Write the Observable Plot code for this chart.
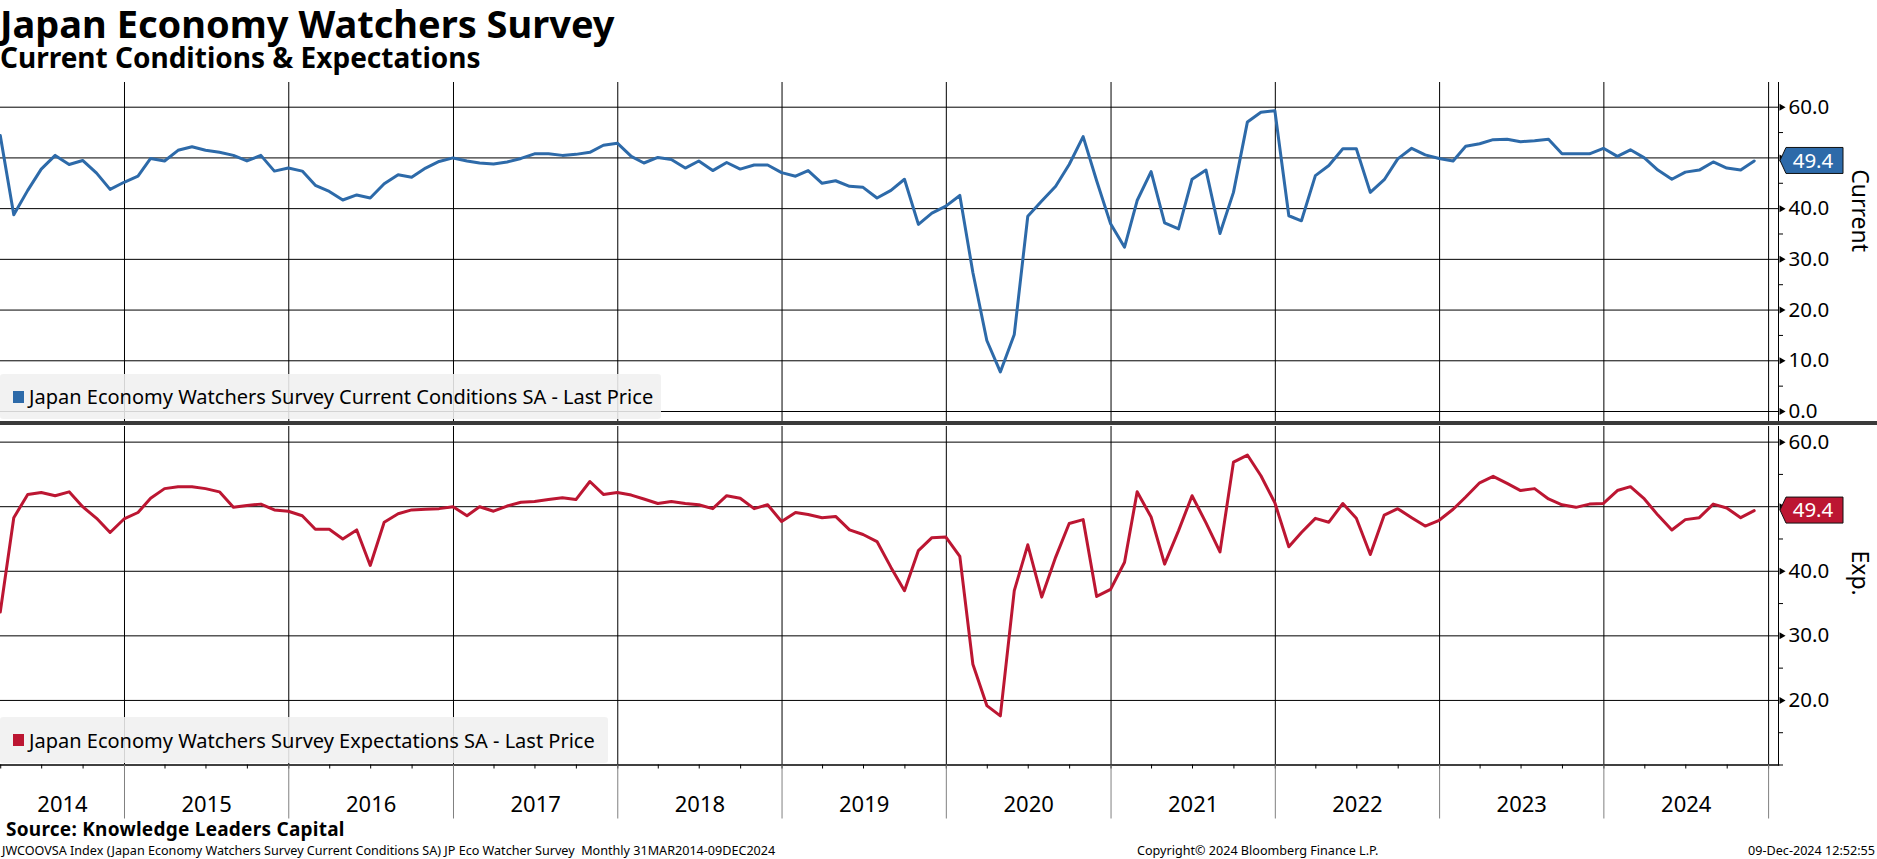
<!DOCTYPE html>
<html>
<head>
<meta charset="utf-8">
<script src="https://cdn.jsdelivr.net/npm/d3@7"></script>
<script src="https://cdn.jsdelivr.net/npm/@observablehq/plot@0.6"></script>
<style>
  html, body { margin: 0; padding: 0; background: #fff; overflow: hidden; }
  #root { position: relative; width: 1877px; height: 859px; overflow: hidden; font-family: 'Noto Sans', sans-serif; color: #000; }
  .abs { position: absolute; white-space: nowrap; }
  .title { left: 0; top: 4px; font-weight: 700; font-size: 38px; line-height: 38px; }
  .subtitle { left: 0; top: 43px; font-weight: 700; font-size: 28px; line-height: 28px; }
  .legend { left: 0; background: rgba(240,240,240,0.88); border-radius: 3px; font-size: 20px; display: flex; align-items: center; }
  .legend .sw { width: 11px; height: 12px; margin-left: 13px; margin-right: 5px; }
  .sep { left: 0; width: 1877px; top: 421px; height: 4px; background: #3a3a3a; }
  .source { left: 6px; top: 820px; font-weight: 700; font-size: 19px; line-height: 19px; letter-spacing: 0.25px; }
  .foot { top: 845px; font-size: 12.6px; line-height: 12.6px; }
</style>
</head>
<body>
<div id="root"></div>
<script>
// ---------- data (monthly, Mar 2014 – Nov 2024) ----------
const currentName = "Japan Economy Watchers Survey Current Conditions SA - Last Price";
const expectName = "Japan Economy Watchers Survey Expectations SA - Last Price";
const currentAxisLabel = "Current";
const expectAxisLabel = "Exp.";

const currentValues = [
  54.4, 38.8, 43.6, 47.8, 50.5, 48.7, 49.5, 47.0, 43.8, 45.2,
  46.4, 49.9, 49.4, 51.5, 52.2, 51.5, 51.1, 50.5, 49.4, 50.5, 47.4, 48.0,
  47.4, 44.6, 43.4, 41.7, 42.7, 42.1, 44.9, 46.7, 46.2, 48.0, 49.3, 50.0,
  49.4, 49.0, 48.8, 49.2, 49.9, 50.8, 50.8, 50.5, 50.7, 51.1, 52.5, 52.9,
  50.3, 49.0, 50.1, 49.7, 48.0, 49.4, 47.5, 49.1, 47.8, 48.6, 48.6, 47.1,
  46.4, 47.5, 45.0, 45.5, 44.4, 44.2, 42.1, 43.6, 45.8, 36.9, 39.1, 40.5,
  42.6, 27.4, 14.0, 7.8, 15.2, 38.5, 41.5, 44.4, 48.7, 54.2, 45.5, 37.0,
  32.4, 41.6, 47.3, 37.2, 36.0, 45.8, 47.6, 35.1, 43.2, 57.1, 59.0, 59.3,
  38.6, 37.6, 46.5, 48.5, 51.8, 51.8, 43.2, 45.7, 49.8, 51.9, 50.6, 49.9,
  49.4, 52.3, 52.8, 53.6, 53.7, 53.2, 53.4, 53.7, 50.8, 50.8, 50.8, 51.9,
  50.3, 51.6, 50.0, 47.6, 45.8, 47.2, 47.6, 49.2, 48.0, 47.6, 49.4
];
const expectValues = [
  33.7, 48.3, 51.9, 52.2, 51.7, 52.3, 50.0, 48.2, 46.0, 48.1,
  49.1, 51.3, 52.8, 53.1, 53.1, 52.8, 52.3, 49.9, 50.2, 50.4, 49.5, 49.3,
  48.6, 46.5, 46.5, 45.0, 46.4, 40.9, 47.6, 48.9, 49.5, 49.6, 49.7, 50.0,
  48.6, 50.0, 49.3, 50.1, 50.7, 50.8, 51.1, 51.4, 51.1, 53.9, 51.9, 52.2,
  51.8, 51.2, 50.5, 50.8, 50.5, 50.3, 49.7, 51.7, 51.3, 49.7, 50.3, 47.7,
  49.1, 48.8, 48.3, 48.5, 46.4, 45.7, 44.6, 40.6, 37.0, 43.2, 45.2, 45.3,
  42.3, 25.6, 19.2, 17.6, 37.0, 44.1, 36.0, 42.2, 47.4, 48.0, 36.1, 37.2,
  41.4, 52.3, 48.4, 41.1, 46.3, 51.7, 47.5, 43.0, 56.9, 58.0, 54.8, 50.6,
  43.8, 46.0, 48.2, 47.6, 50.5, 48.2, 42.6, 48.7, 49.7, 48.3, 47.0, 47.9,
  49.6, 51.5, 53.7, 54.7, 53.6, 52.5, 52.8, 51.2, 50.3, 49.9, 50.4, 50.5,
  52.5, 53.1, 51.2, 48.7, 46.4, 48.0, 48.3, 50.4, 49.8, 48.3, 49.4
];
const yearLabels = [2014, 2015, 2016, 2017, 2018, 2019, 2020, 2021, 2022, 2023, 2024];
const topMajorTicks = [0, 10, 20, 30, 40, 50, 60];
const topMinorTicks = [5, 15, 25, 35, 45, 55];
const botMajorTicks = [20, 30, 40, 50, 60];
const botMinorTicks = [10, 15, 25, 35, 45, 55];

// ---------- derived tables ----------
const months = d3.utcMonth.range(new Date(Date.UTC(2014, 2, 1)), new Date(Date.UTC(2024, 11, 1)))
  .map(d => d3.utcDay.offset(d3.utcMonth.offset(d, 1), -1));
const currentData = months.map((date, i) => ({date, value: currentValues[i]}));
const expectData = months.map((date, i) => ({date, value: expectValues[i]}));

const xDomain = [new Date(Date.UTC(2014, 2, 31, 12)), new Date(Date.UTC(2025, 0, 23))];
const yearStarts = yearLabels.slice(1).concat([yearLabels[yearLabels.length - 1] + 1]).map(y => new Date(Date.UTC(y, 0, 1)));
const quarterTicks = d3.utcMonth.every(3).range(new Date(Date.UTC(2014, 3, 1)), new Date(Date.UTC(2025, 0, 2)));
const yearLabelData = yearLabels.map(y => {
  const a = Math.max(+new Date(Date.UTC(y, 0, 1)), +xDomain[0]);
  const b = +new Date(Date.UTC(y + 1, 0, 1));
  return {date: new Date((a + b) / 2), label: String(y)};
});

const blue = "#2d6aa9";
const red = "#bc1632";
const W = 1877;
const fmt = d3.format(".1f");

const baseStyle = {fontFamily: "'Noto Sans', sans-serif", fontSize: "20px", color: "#000", background: "transparent", overflow: "visible"};

// tick labels hidden behind the last-value tag (as in the Bloomberg chart)
function visibleLabels(major, last, unitsPerTag) {
  return major.filter(t => Math.abs(t - last) > unitsPerTag);
}

function rightAxisMarks(major, minor, label, last, unitsPerTag) {
  return [
    Plot.frame({anchor: "right", stroke: "#000", strokeWidth: 1}),
    Plot.axisY(minor, {anchor: "right", tickSize: 4, tickFormat: () => "", label: null, stroke: "#000"}),
    Plot.axisY(visibleLabels(major, last, unitsPerTag), {anchor: "right", tickSize: 0, tickPadding: 10, tickFormat: fmt, label: null, fontSize: 20.5, fill: "#000"}),
    Plot.dot(major, {y: d => d, frameAnchor: "right", symbol: "triangle", r: 2.6, rotate: 90, fill: "#000", stroke: null, dx: 3}),
    Plot.text([label], {frameAnchor: "right", rotate: 90, dx: 81, fontSize: 23, text: d => d, fill: "#000"})
  ];
}

const lastCurrent = currentValues[currentValues.length - 1];
const lastExpect = expectValues[expectValues.length - 1];

const topPlot = Plot.plot({
  width: W, height: 366, marginLeft: 0, marginRight: 99, marginTop: 22, marginBottom: 5,
  style: baseStyle,
  x: {type: "utc", domain: xDomain, axis: null},
  y: {domain: [-1.97, 64.87], axis: null},
  marks: [
    Plot.ruleY(topMajorTicks, {stroke: "#000", strokeWidth: 1}),
    Plot.ruleX(yearStarts, {stroke: "#000", strokeWidth: 1}),
    Plot.line(currentData, {x: "date", y: "value", stroke: blue, strokeWidth: 3, strokeLinejoin: "round"}),
    ...rightAxisMarks(topMajorTicks, topMinorTicks, currentAxisLabel, lastCurrent, 4)
  ]
});

const botPlot = Plot.plot({
  width: W, height: 396, marginLeft: 0, marginRight: 99, marginTop: 2, marginBottom: 55.5,
  style: baseStyle,
  x: {type: "utc", domain: xDomain, axis: null},
  y: {domain: [10, 62.42], axis: null},
  marks: [
    Plot.ruleY(botMajorTicks, {stroke: "#000", strokeWidth: 1}),
    Plot.ruleX(yearStarts, {stroke: "#000", strokeWidth: 1}),
    Plot.line(expectData, {x: "date", y: "value", stroke: red, strokeWidth: 3, strokeLinejoin: "round"}),
    Plot.frame({anchor: "bottom", stroke: "#000", strokeWidth: 1.5}),
    Plot.axisX(quarterTicks, {anchor: "bottom", tickSize: 4, tickFormat: () => "", label: null, stroke: "#000"}),
    Plot.axisX(yearStarts, {anchor: "bottom", tickSize: 54, tickFormat: () => "", label: null, stroke: "#808080"}),
    Plot.text(yearLabelData, {x: "date", text: "label", frameAnchor: "bottom", dy: 47, fontSize: 22, fill: "#000"}),
    ...rightAxisMarks(botMajorTicks, botMinorTicks, expectAxisLabel, lastExpect, 3.2)
  ]
});

function addLastLabel(plot, value, color) {
  const svg = d3.select(plot);
  const y = plot.scale("y").apply(value);
  const x = plot.scale("x").apply(xDomain[1]);
  const g = svg.append("g");
  g.append("path")
    .attr("d", `M${x + 2},${y} L${x + 8},${y - 13} H${x + 65} V${y + 13} H${x + 8} Z`)
    .attr("fill", color).attr("stroke", "#111").attr("stroke-width", 1);
  g.append("text").attr("x", x + 35).attr("y", y).attr("dy", "0.36em")
    .attr("text-anchor", "middle").attr("fill", "#fff")
    .attr("font-family", "'Noto Sans', sans-serif").attr("font-size", 20.5)
    .text(fmt(value));
}
addLastLabel(topPlot, lastCurrent, blue);
addLastLabel(botPlot, lastExpect, red);

const root = document.getElementById("root");
function place(el, top) {
  el.style.position = "absolute"; el.style.left = "0px"; el.style.top = top + "px";
  root.appendChild(el);
}
place(topPlot, 60);
place(botPlot, 424);

function div(cls, html, css) {
  const d = document.createElement("div");
  d.className = "abs " + cls;
  d.innerHTML = html;
  if (css) Object.assign(d.style, css);
  root.appendChild(d);
  return d;
}
div("title", "Japan Economy Watchers Survey");
div("subtitle", "Current Conditions &amp; Expectations");
div("legend", `<span class="sw" style="background:${blue}"></span><span>${currentName}</span>`, {top: "374px", height: "45px", width: "661px"});
div("legend", `<span class="sw" style="background:${red}"></span><span>${expectName}</span>`, {top: "717px", height: "46px", width: "608px"});
div("sep", "");
div("source", "Source: Knowledge Leaders Capital");
div("foot", "JWCOOVSA Index (Japan Economy Watchers Survey Current Conditions SA) JP Eco Watcher Survey&nbsp; Monthly 31MAR2014-09DEC2024", {left: "2px"});
div("foot", "Copyright© 2024 Bloomberg Finance L.P.", {left: "1137px"});
div("foot", "09-Dec-2024 12:52:55", {right: "2px"});
</script>
</body>
</html>
